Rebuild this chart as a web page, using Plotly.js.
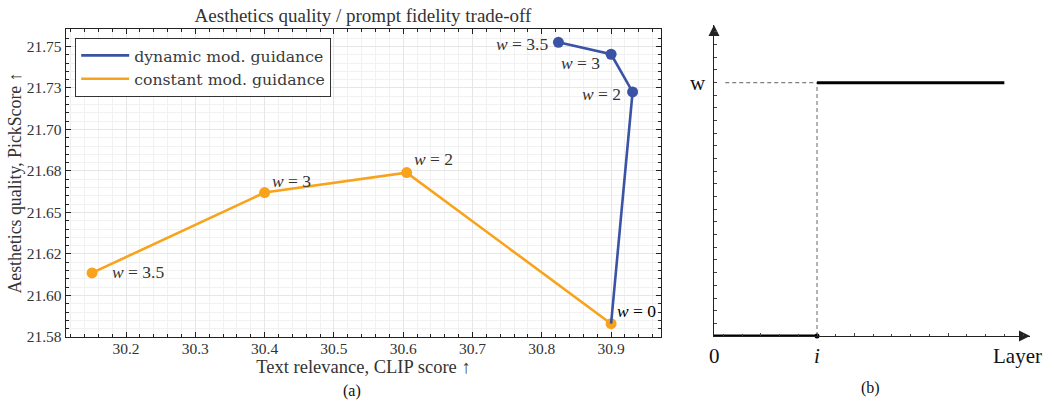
<!DOCTYPE html>
<html>
<head>
<meta charset="utf-8">
<script src="https://cdn.plot.ly/plotly-3.0.1.min.js"></script>
<style>html,body{margin:0;padding:0;background:#fff;}#chart{width:1044px;height:400px;}</style>
</head>
<body>
<div id="chart"></div>
<script>
// ---- Panel (a) data ----
const dynamicClip = [30.824, 30.900, 30.931, 30.900];
const dynamicPick = [21.7525, 21.7453, 21.7226, 21.583];
const dynamicLabels = ['3.5', '3', '2', '0'];

const constantClip = [30.151, 30.400, 30.605, 30.900];
const constantPick = [21.6136, 21.662, 21.674, 21.583];
const constantLabels = ['3.5', '3', '2', '0'];

const yTickVals = [21.575, 21.600, 21.625, 21.650, 21.675, 21.700, 21.725, 21.750];
const yTickText = ['21.58', '21.60', '21.62', '21.65', '21.68', '21.70', '21.73', '21.75'];

// ---- Panel (b) data (schematic) ----
const offLayers = [0, 5.5];
const offWeights = [0, 0];
const onLayers = [5.5, 15.5];
const onWeights = [20, 20];
const guideHLayers = [0.6, 5.5];
const guideHWeights = [20, 20];
const guideVLayers = [5.5, 5.5];
const guideVWeights = [0, 20];
const switchPoint = {layer: [5.5], weight: [0]};
const axisEnds = {layer: 16.87, weight: 24.55};

const BLUE = '#3a53a4';
const ORANGE = '#f8a31b';
const SERIF = '"Liberation Serif", "Times New Roman", serif';
const LEGSERIF = '"DejaVu Serif", serif';
const TXT = '#333333';

const traces = [
  {x: dynamicClip.slice(0, 3), y: dynamicPick.slice(0, 3), mode: 'markers', type: 'scatter',
   marker: {color: BLUE, size: 11}, showlegend: false, xaxis: 'x', yaxis: 'y', hoverinfo: 'skip'},
  {x: constantClip, y: constantPick, mode: 'lines', type: 'scatter', name: 'constant mod. guidance',
   line: {color: ORANGE, width: 2.6}, legendrank: 2, xaxis: 'x', yaxis: 'y'},
  {x: constantClip, y: constantPick, mode: 'markers', type: 'scatter',
   marker: {color: ORANGE, size: 11}, showlegend: false, xaxis: 'x', yaxis: 'y'},
  {x: dynamicClip, y: dynamicPick, mode: 'lines', type: 'scatter', name: 'dynamic mod. guidance',
   line: {color: BLUE, width: 2.6}, legendrank: 1, xaxis: 'x', yaxis: 'y'},
  // panel (b)
  {x: guideHLayers, y: guideHWeights, mode: 'lines', xaxis: 'x2', yaxis: 'y2', showlegend: false,
   line: {color: '#808080', width: 1.2, dash: '4px,3px'}, hoverinfo: 'skip'},
  {x: guideVLayers, y: guideVWeights, mode: 'lines', xaxis: 'x2', yaxis: 'y2', showlegend: false,
   line: {color: '#808080', width: 1.2, dash: '4px,3px'}, hoverinfo: 'skip'},
  {x: offLayers, y: offWeights, mode: 'lines', xaxis: 'x2', yaxis: 'y2', showlegend: false,
   line: {color: '#000', width: 3}, hoverinfo: 'skip', cliponaxis: false},
  {x: onLayers, y: onWeights, mode: 'lines', xaxis: 'x2', yaxis: 'y2', showlegend: false,
   line: {color: '#000', width: 3}, hoverinfo: 'skip'},
  {x: switchPoint.layer, y: switchPoint.weight, mode: 'markers', xaxis: 'x2', yaxis: 'y2', showlegend: false,
   marker: {color: '#000', size: 5}, cliponaxis: false, hoverinfo: 'skip'},
  {x: [axisEnds.layer], y: [0], mode: 'markers', xaxis: 'x2', yaxis: 'y2', showlegend: false,
   marker: {symbol: 'arrow-right', color: '#222', size: 11}, cliponaxis: false, hoverinfo: 'skip'},
  {x: [0], y: [axisEnds.weight], mode: 'markers', xaxis: 'x2', yaxis: 'y2', showlegend: false,
   marker: {symbol: 'arrow-up', color: '#222', size: 11}, cliponaxis: false, hoverinfo: 'skip'}
];

const annFont = {family: SERIF, size: 17.5, color: TXT};
const annotations = [];
const cShift = [[18, 1], [5, 12], [5, 14], [4, 13]];
constantClip.forEach((cx, k) => {
  annotations.push({x: cx, y: constantPick[k], xref: 'x', yref: 'y', showarrow: false,
    text: '<i>w</i> = ' + constantLabels[k], xanchor: 'left', yanchor: 'middle',
    xshift: cShift[k][0], yshift: cShift[k][1], font: k === 3 ? {family: SERIF, size: 17.5, color: '#000'} : annFont});
});
const dShift = [[-8, -2], [-9, -9], [-10, -2]];
for (let k = 0; k < 3; k++) {
  annotations.push({x: dynamicClip[k], y: dynamicPick[k], xref: 'x', yref: 'y', showarrow: false,
    text: '<i>w</i> = ' + dynamicLabels[k], xanchor: 'right', yanchor: 'middle',
    xshift: dShift[k][0], yshift: dShift[k][1], font: annFont});
}
annotations.push({xref: 'paper', yref: 'paper', x: 352 / 1044, y: 1 - 391 / 400, text: '(a)',
  showarrow: false, yanchor: 'middle', font: {family: SERIF, size: 16, color: '#111'}});
annotations.push({xref: 'paper', yref: 'paper', x: 882 / 1044, y: 1 - 388 / 400, text: '(b)',
  showarrow: false, yanchor: 'middle', font: {family: SERIF, size: 16, color: '#111'}});
const bFont = {family: SERIF, size: 21, color: '#111'};
annotations.push({xref: 'x2', yref: 'y2', x: 0, y: onWeights[0], text: 'w', showarrow: false,
  xanchor: 'center', xshift: -16, font: bFont});
annotations.push({xref: 'x2', yref: 'y2', x: 0, y: 0, text: '0', showarrow: false,
  yanchor: 'middle', yshift: -20, font: bFont});
annotations.push({xref: 'x2', yref: 'y2', x: onLayers[0], y: 0, text: '<i>i</i>', showarrow: false,
  yanchor: 'middle', yshift: -20, font: bFont});
annotations.push({xref: 'x2', yref: 'y2', x: axisEnds.layer, y: 0, text: 'Layer', showarrow: false,
  yanchor: 'middle', xanchor: 'right', xshift: 14, yshift: -20, font: bFont});

const layout = {
  width: 1044, height: 400,
  margin: {l: 0, r: 0, t: 0, b: 0},
  paper_bgcolor: '#fff', plot_bgcolor: '#fff',
  font: {family: SERIF, color: TXT},
  title: {text: 'Aesthetics quality / prompt fidelity trade-off', x: 363 / 1044, xanchor: 'center',
    y: 1 - 15 / 400, yanchor: 'middle', font: {family: SERIF, size: 19, color: TXT}},
  showlegend: true,
  legend: {x: 75 / 1044, y: 1 - 37.5 / 400, xanchor: 'left', yanchor: 'top',
    bgcolor: '#fff', bordercolor: '#333', borderwidth: 1.2, itemwidth: 48,
    font: {family: LEGSERIF, size: 15.7, color: '#3a3a3a'}, tracegroupgap: 0},
  xaxis: {domain: [66 / 1044, 661 / 1044], range: [30.1134, 30.972], anchor: 'y',
    tick0: 30.2, dtick: 0.1, tickformat: '.1f', ticks: 'inside', ticklen: 5, tickwidth: 1, tickcolor: '#222',
    ticklabelstandoff: -3,
    showline: true, linecolor: '#222', linewidth: 1.3, mirror: 'allticks',
    showgrid: true, gridcolor: '#e6e6e6', gridwidth: 1, zeroline: false,
    minor: {dtick: 0.02, tick0: 30.2, ticks: 'inside', ticklen: 3, tickcolor: '#222', showgrid: true, gridcolor: '#f1f1f1'},
    tickfont: {family: SERIF, size: 15.5, color: TXT},
    title: {text: 'Text relevance, CLIP score ↑', standoff: 0, font: {family: SERIF, size: 18.5, color: TXT}}},
  yaxis: {domain: [1 - 337 / 400, 1 - 29 / 400], range: [21.575, 21.7605], anchor: 'x',
    tickvals: yTickVals, ticktext: yTickText, ticks: 'inside', ticklen: 5, tickwidth: 1, tickcolor: '#222',
    showline: true, linecolor: '#222', linewidth: 1.3, mirror: 'allticks',
    showgrid: true, gridcolor: '#e6e6e6', gridwidth: 1, zeroline: false,
    minor: {dtick: 0.005, tick0: 21.575, ticks: 'inside', ticklen: 3, tickcolor: '#222', showgrid: true, gridcolor: '#f1f1f1'},
    tickfont: {family: SERIF, size: 15.5, color: TXT},
    title: {text: 'Aesthetics quality, PickScore ↑', standoff: 0, font: {family: SERIF, size: 17.8, color: TXT}}},
  xaxis2: {domain: [714 / 1044, 1030 / 1044], range: [0, axisEnds.layer], anchor: 'y2',
    showline: true, linecolor: '#222', linewidth: 1.3, showgrid: false, zeroline: false,
    showticklabels: false, ticks: 'inside', tick0: 2.5, dtick: 5, ticklen: 3, tickcolor: '#444',
    minor: {tick0: 0.5, dtick: 1, ticks: 'inside', ticklen: 2.5, tickcolor: '#444'}},
  yaxis2: {domain: [1 - 336 / 400, 1 - 25 / 400], range: [0, axisEnds.weight], anchor: 'x2',
    showline: true, linecolor: '#222', linewidth: 1.3, showgrid: false, zeroline: false,
    showticklabels: false, ticks: 'inside', tick0: 0, dtick: 4, ticklen: 3, tickcolor: '#444',
    minor: {tick0: 0, dtick: 1, ticks: 'inside', ticklen: 2.5, tickcolor: '#444'}},
  annotations: annotations
};

Plotly.newPlot('chart', traces, layout, {displayModeBar: false, staticPlot: true});
</script>
</body>
</html>
